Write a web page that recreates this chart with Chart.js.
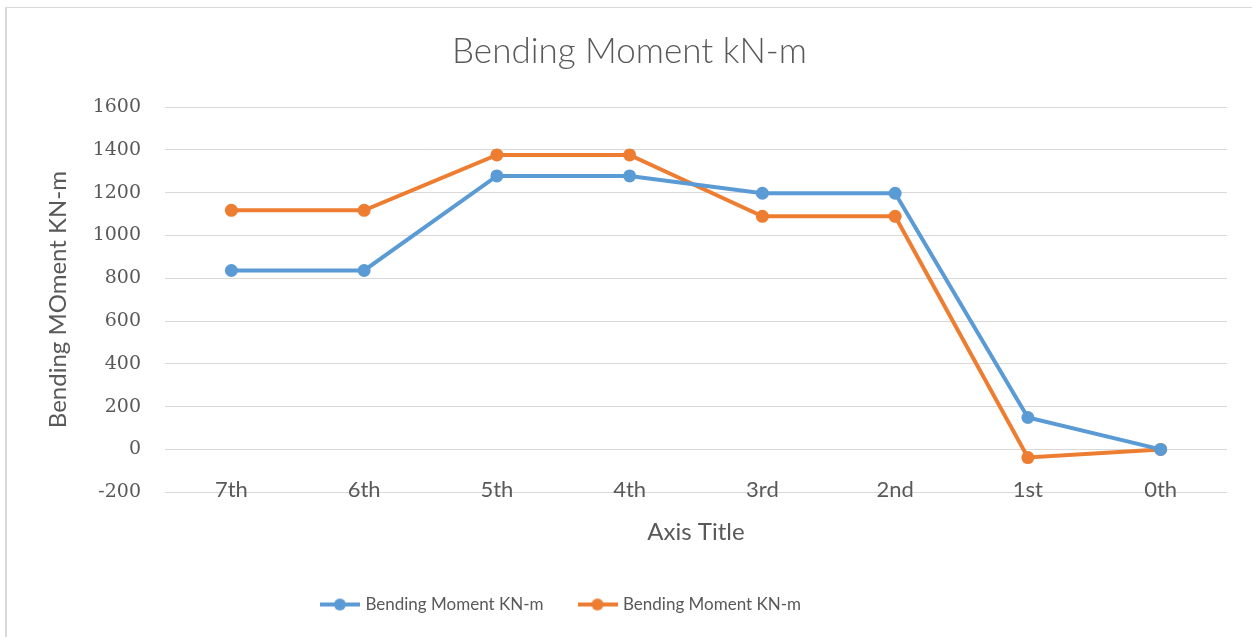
<!DOCTYPE html>
<html>
<head>
<meta charset="utf-8">
<script src="https://cdn.jsdelivr.net/npm/chart.js@4"></script>
<style>
    html, body { margin: 0; padding: 0; background: #fff; }
    #wrap { position: relative; width: 1252px; height: 637px; }
    #frame { position: absolute; left: 5px; top: 7px; right: 0; bottom: 0;
             border-left: 2px solid #d9d9d9; border-top: 1px solid #d9d9d9; }
    canvas { position: absolute; left: 0; top: 0; }
</style>
</head>
<body>
<div id="wrap">
    <div id="frame"></div>
    <canvas id="chart" width="1252" height="637"></canvas>
</div>
<script>
// Chart data
const floors = ['7th', '6th', '5th', '4th', '3rd', '2nd', '1st', '0th'];
const seriesNames = ['Bending Moment KN-m', 'Bending Moment KN-m'];
const momentBlue = [836, 836, 1278, 1278, 1197, 1197, 149, 0];
const momentOrange = [1117, 1117, 1376, 1376, 1089, 1089, -38, 0];
const yTicks = { min: -200, max: 1600, step: 200 };

const BLUE = '#5B9BD5';
const ORANGE = '#ED7D31';
const TEXT = '#595959';
const GRID = '#d9d9d9';

// legend marker: short line with a dot in the middle
function legendMarker(color) {
    const c = document.createElement('canvas');
    c.width = 40;
    c.height = 14;
    const g = c.getContext('2d');
    g.strokeStyle = color;
    g.lineWidth = 4;
    g.beginPath();
    g.moveTo(0, 7);
    g.lineTo(40, 7);
    g.stroke();
    g.fillStyle = color;
    g.beginPath();
    g.arc(20, 7, 6, 0, Math.PI * 2);
    g.fill();
    return c;
}

// small nudges so title and legend sit where the original has them
const boxShift = {
    id: 'boxShift',
    afterLayout(chart) {
        if (chart.legend) chart.legend.right -= 111;
        if (chart.titleBlock) chart.titleBlock.left += 24;
    }
};

const ctx = document.getElementById('chart');
new Chart(ctx, {
    type: 'line',
    data: {
        labels: floors,
        datasets: [
            {
                label: seriesNames[0],
                data: momentBlue,
                borderColor: BLUE,
                backgroundColor: BLUE,
                borderWidth: 4,
                pointRadius: 6.5,
                pointHoverRadius: 6.5,
                pointBorderWidth: 0,
                tension: 0
            },
            {
                label: seriesNames[1],
                data: momentOrange,
                borderColor: ORANGE,
                backgroundColor: ORANGE,
                borderWidth: 4,
                pointRadius: 6.5,
                pointHoverRadius: 6.5,
                pointBorderWidth: 0,
                tension: 0
            }
        ]
    },
    options: {
        responsive: false,
        animation: false,
        layout: { padding: { top: 8, left: 8, right: 25, bottom: 14 } },
        plugins: {
            title: {
                display: true,
                text: 'Bending Moment kN-m',
                color: TEXT,
                font: { family: 'Lato', size: 35, weight: '300' },
                padding: { top: 23, bottom: 34 }
            },
            legend: {
                position: 'bottom',
                labels: {
                    color: TEXT,
                    font: { family: 'Lato', size: 17 },
                    usePointStyle: true,
                    pointStyleWidth: 34,
                    boxHeight: 14,
                    padding: 37,
                    generateLabels(chart) {
                        const items = Chart.defaults.plugins.legend.labels.generateLabels(chart);
                        items.forEach(item => {
                            const ds = chart.data.datasets[item.datasetIndex];
                            item.pointStyle = legendMarker(ds.borderColor);
                        });
                        return items;
                    }
                }
            },
            tooltip: { enabled: false }
        },
        scales: {
            x: {
                offset: true,
                grid: { display: false, drawTicks: false },
                border: { display: false },
                ticks: {
                    color: TEXT,
                    font: { family: 'Lato', size: 22 },
                    mirror: true,
                    padding: -11,
                    maxRotation: 0
                },
                title: {
                    display: true,
                    text: 'Axis Title',
                    color: TEXT,
                    font: { family: 'Lato', size: 24 },
                    padding: { top: 48, bottom: 12 }
                }
            },
            y: {
                min: yTicks.min,
                max: yTicks.max,
                grid: { color: GRID, lineWidth: 1, drawTicks: false },
                border: { display: false },
                ticks: {
                    stepSize: yTicks.step,
                    color: TEXT,
                    font: { family: 'DejaVu Serif', size: 19 },
                    padding: 24,
                    callback: value => String(value)
                },
                title: {
                    display: true,
                    text: 'Bending MOment KN-m',
                    color: TEXT,
                    font: { family: 'Lato', size: 24 },
                    padding: { top: 36, bottom: 0 }
                },
                afterFit(scale) {
                    scale.width = 157;
                }
            }
        }
    },
    plugins: [boxShift]
});
</script>
</body>
</html>
